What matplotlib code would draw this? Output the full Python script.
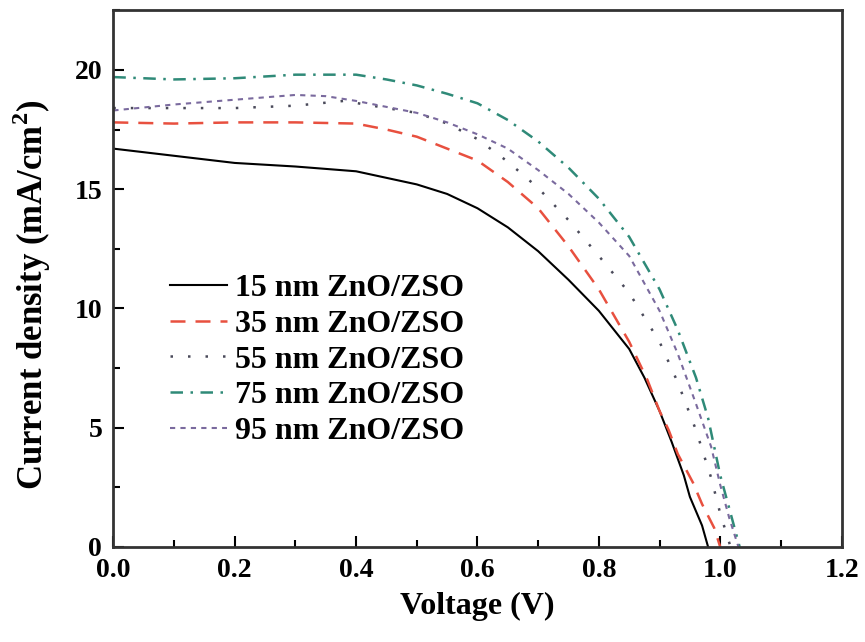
import matplotlib
matplotlib.use("Agg")
import matplotlib.pyplot as plt
from matplotlib.ticker import MultipleLocator

plt.rcParams['font.family'] = ['Liberation Serif', 'DejaVu Serif']
plt.rcParams['font.weight'] = 'bold'
plt.rcParams['mathtext.fontset'] = 'custom'
plt.rcParams['mathtext.rm'] = 'Liberation Serif:bold'
plt.rcParams['mathtext.bf'] = 'Liberation Serif:bold'

labels = ["15 nm ZnO/ZSO", "35 nm ZnO/ZSO", "55 nm ZnO/ZSO", "75 nm ZnO/ZSO", "95 nm ZnO/ZSO"]

v15 = [0.0, 0.1, 0.2, 0.3, 0.4, 0.5, 0.55, 0.6, 0.65, 0.7, 0.75, 0.8, 0.85, 0.875, 0.9, 0.92, 0.94, 0.95, 0.97, 0.98]
j15 = [16.7, 16.4, 16.1, 15.95, 15.75, 15.2, 14.8, 14.2, 13.4, 12.4, 11.2, 9.9, 8.3, 7.1, 5.7, 4.4, 3.0, 2.1, 0.9, 0.0]

v35 = [0.0, 0.1, 0.2, 0.3, 0.4, 0.45, 0.5, 0.55, 0.6, 0.65, 0.7, 0.75, 0.8, 0.85, 0.88, 0.9, 0.915, 0.93, 0.955, 0.97, 0.99, 1.0]
j35 = [17.8, 17.75, 17.8, 17.8, 17.75, 17.5, 17.2, 16.7, 16.2, 15.3, 14.2, 12.6, 10.8, 8.6, 7.0, 5.7, 4.9, 3.9, 2.7, 1.8, 0.8, 0.0]

v55 = [0.0, 0.1, 0.2, 0.3, 0.38, 0.45, 0.5, 0.55, 0.6, 0.65, 0.7, 0.75, 0.8, 0.85, 0.9, 0.93, 0.96, 0.985, 1.0, 1.017]
j55 = [18.4, 18.4, 18.4, 18.5, 18.7, 18.4, 18.2, 17.75, 17.1, 16.15, 15.05, 13.7, 12.2, 10.65, 8.6, 6.9, 4.9, 2.9, 1.4, 0.0]

v75 = [0.0, 0.1, 0.2, 0.3, 0.4, 0.45, 0.5, 0.55, 0.6, 0.65, 0.7, 0.75, 0.8, 0.85, 0.9, 0.93, 0.96, 0.98, 1.0, 1.015, 1.032]
j75 = [19.7, 19.6, 19.65, 19.8, 19.8, 19.6, 19.35, 19.0, 18.6, 17.9, 17.0, 15.9, 14.6, 13.0, 10.8, 9.1, 7.1, 5.4, 3.0, 1.6, 0.0]

v95 = [0.0, 0.1, 0.2, 0.3, 0.35, 0.4, 0.45, 0.5, 0.55, 0.6, 0.65, 0.7, 0.75, 0.8, 0.85, 0.9, 0.93, 0.96, 0.985, 1.0, 1.015, 1.03]
j95 = [18.3, 18.55, 18.75, 18.95, 18.9, 18.7, 18.45, 18.2, 17.8, 17.3, 16.7, 15.8, 14.8, 13.6, 12.2, 9.9, 8.1, 6.0, 4.2, 2.6, 1.2, 0.0]

fig = plt.figure(figsize=(8.65, 6.42), dpi=100)
ax = fig.add_axes([0.131, 0.148, 0.842, 0.836])

ax.plot(v15, j15, color='black', lw=1.5, label=labels[0])
ax.plot(v35, j35, color='#e8503f', lw=1.8, dashes=(6, 4), label=labels[1])
ax.plot(v55, j55, color='#4a4a5a', lw=1.8, dashes=(1, 6), label=labels[2])
ax.plot(v75, j75, color='#2f8a78', lw=1.8, dashes=(5, 3, 1, 3), label=labels[3])
ax.plot(v95, j95, color='#7a6a9e', lw=1.5, dashes=(2.5, 2.5), label=labels[4])

ax.set_xlim(0, 1.2)
ax.set_ylim(0, 22.5)
ax.xaxis.set_minor_locator(MultipleLocator(0.1))
ax.yaxis.set_major_locator(MultipleLocator(5))
ax.yaxis.set_minor_locator(MultipleLocator(2.5))
ax.set_xticks([0.0, 0.2, 0.4, 0.6, 0.8, 1.0, 1.2])
ax.set_xticklabels(["0.0", "0.2", "0.4", "0.6", "0.8", "1.0", "1.2"])
ax.tick_params(which='both', direction='in', top=False, right=False, labelsize=20, width=1.5)
ax.tick_params(which='major', length=8, pad=8)
ax.tick_params(which='minor', length=5)
for s in ax.spines.values():
    s.set_linewidth(2)
    s.set_color('#333333')

ax.set_xlabel("Voltage (V)", fontsize=23, fontweight='bold', labelpad=6)
ax.set_ylabel("Current density (mA/cm$^2$)", fontsize=25, fontweight='bold')
ax.yaxis.set_label_coords(-0.083, 0.469)

ax.legend(loc='upper left', bbox_to_anchor=(0.06, 0.533), frameon=False, fontsize=23,
          handlelength=1.8, labelspacing=0.2, handletextpad=0.25, borderaxespad=0)

fig.savefig("out.png", dpi=100)
